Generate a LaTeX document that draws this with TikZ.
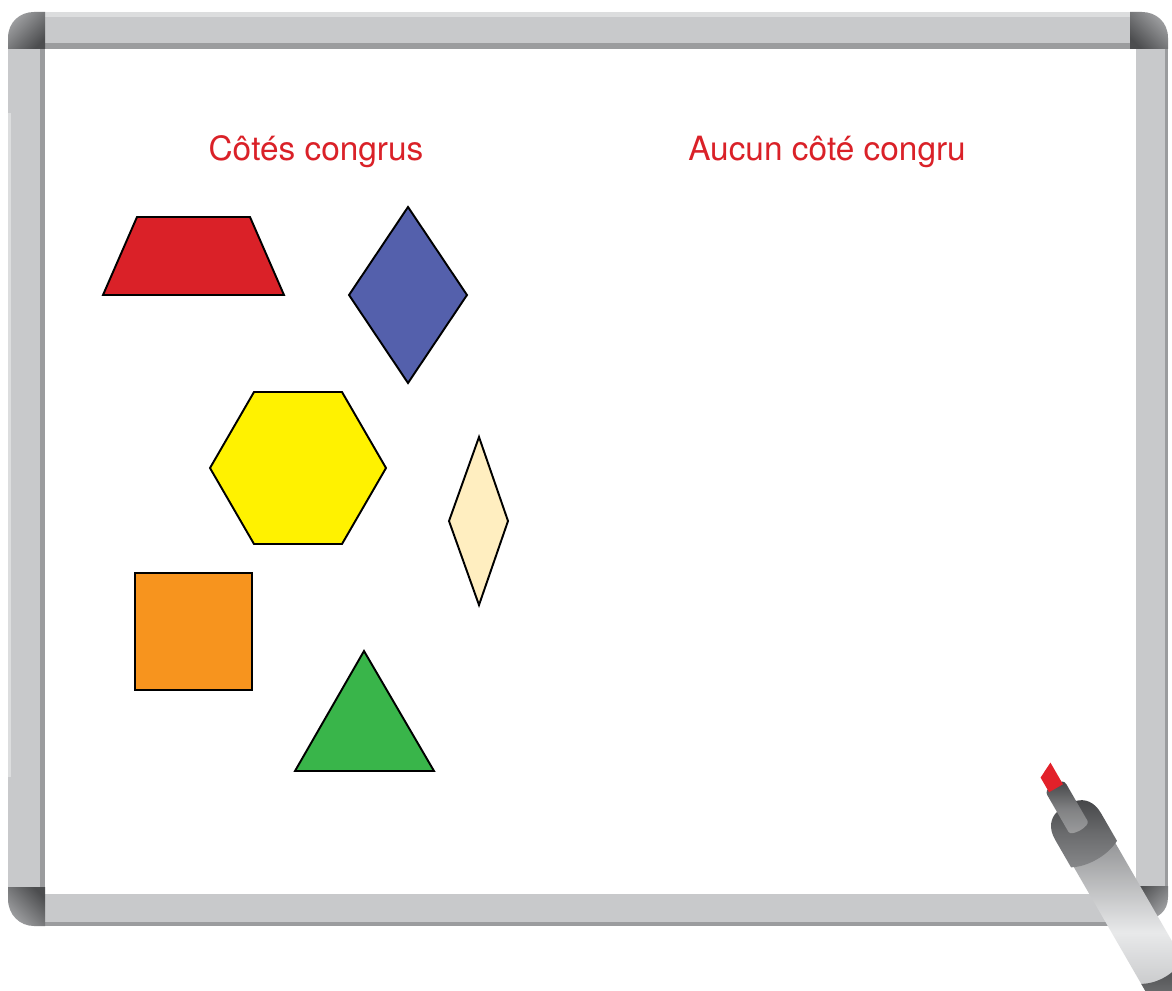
\documentclass[tikz,border=0pt]{standalone}
\usepackage{fontspec}
\setmainfont{TeX Gyre Heros}
\definecolor{rail}{HTML}{C8C9CB}
\definecolor{railhi}{HTML}{DCDDDE}
\definecolor{raillo}{HTML}{9B9C9E}
\definecolor{capdark}{HTML}{4C4D4F}
\definecolor{caplight}{HTML}{A2A3A5}
\definecolor{titlered}{HTML}{DA2128}
\definecolor{trapred}{HTML}{DA2128}
\definecolor{rhombblue}{HTML}{5460AC}
\definecolor{hexyellow}{HTML}{FFF200}
\definecolor{rhombtan}{HTML}{FFEEC0}
\definecolor{squareorange}{HTML}{F7941E}
\definecolor{trigreen}{HTML}{39B54A}
\definecolor{barrellight}{HTML}{E8E9EA}
\definecolor{barrelmid}{HTML}{B4B5B7}
\definecolor{barreldark}{HTML}{939496}
\definecolor{bodydark}{HTML}{444547}
\definecolor{bodymid}{HTML}{6A6B6D}
\definecolor{bodylight}{HTML}{868789}
\definecolor{nibred}{HTML}{E2212A}

\begin{document}
\begin{tikzpicture}[x=0.02cm,y=-0.02cm,
  piece/.style={draw=black,line width=1.1pt,line join=miter},
  title/.style={text=titlered,font=\fontsize{19}{22}\selectfont,anchor=base},
  corner/.style={top color=caplight,bottom color=capdark}]
  \useasboundingbox (0,0) rectangle (1172,990);
  \fill[white] (0,0) rectangle (1172,990);

  % frame rails
  \fill[rail] (45,12) rectangle (1130,49);
  \fill[railhi] (45,12) rectangle (1130,17);
  \fill[raillo] (45,43) rectangle (1136,49);
  \fill[rail] (8,49) rectangle (45,887);
  \fill[raillo] (40,49) rectangle (45,887);
  \fill[railhi] (8,113) rectangle (11,777);
  \fill[rail] (1136,49) rectangle (1168,886);
  \fill[raillo] (1165,49) rectangle (1168,886);
  \fill[rail] (45,894) rectangle (1130,926);
  \fill[raillo] (45,922) rectangle (1130,926);

  % corner caps
  \shade[corner,shading angle=45] (45,49) -- (8,49) -- (8,38) .. controls (8,22) and (20,12) .. (34,12) -- (45,12) -- cycle;
  \shade[corner,shading angle=-45] (1130,49) -- (1168,49) -- (1168,38) .. controls (1168,22) and (1156,12) .. (1142,12) -- (1130,12) -- cycle;
  \shade[corner,shading angle=135] (45,887) -- (8,887) -- (8,899) .. controls (8,915) and (20,926) .. (34,926) -- (45,926) -- cycle;
  \shade[corner,shading angle=-135] (1130,886) -- (1168,886) -- (1168,897) .. controls (1168,911) and (1158,919) .. (1146,919) -- (1130,919) -- cycle;

  % headings
  \node[title] (congrus) at (316,160) {Côtés congrus};
  \node[title] (noncongrus) at (827,160) {Aucun côté congru};

  % pattern blocks
  \filldraw[piece,fill=trapred] (137,217) -- (250,217) -- (284,295) -- (103,295) -- cycle;
  \filldraw[piece,fill=rhombblue] (408,207) -- (467,295) -- (408,383) -- (349,295) -- cycle;
  \filldraw[piece,fill=hexyellow] (254,392) -- (342,392) -- (386,468) -- (342,544) -- (254,544) -- (210,468) -- cycle;
  \filldraw[piece,fill=rhombtan] (479,437) -- (508,521) -- (479,605) -- (449,521) -- cycle;
  \filldraw[piece,fill=squareorange] (135,573) rectangle (252,690);
  \filldraw[piece,fill=trigreen] (364,651) -- (434,771) -- (295,771) -- cycle;

  % marker
  \begin{scope}[shift={(1098,861)},rotate=-60]
    \shade[top color=barreldark,bottom color=barrelmid,middle color=barrellight] (-10,-24) rectangle (175,24);
    \shade[top color=bodydark,bottom color=bodylight,middle color=bodymid] (128,-24) .. controls (136,-10) and (136,10) .. (128,24) -- (175,24) -- (175,-24) -- cycle;
    \shade[top color=bodydark,bottom color=bodylight,middle color=bodymid] (-8,-26.5) -- (-40,-26.5) .. controls (-54,-26.5) and (-61,-19) .. (-63,-11) -- (-63,11) .. controls (-61,19) and (-54,26.5) .. (-40,26.5) -- (-8,26.5) .. controls (0,12) and (0,-12) .. (-8,-26.5) -- cycle;
    \shade[top color=bodydark,bottom color=bodylight!80!white,middle color=bodymid!85!white] (-40,-11) -- (-82,-11) .. controls (-86,-11) and (-88,-8) .. (-88,-5) -- (-88,5) .. controls (-88,8) and (-86,11) .. (-82,11) -- (-40,11) .. controls (-34,11) and (-34,-11) .. (-40,-11) -- cycle;
    \fill[nibred] (-84,-8) -- (-109,-8) -- (-101,8) -- (-84,8) -- cycle;
  \end{scope}
\end{tikzpicture}
\end{document}
